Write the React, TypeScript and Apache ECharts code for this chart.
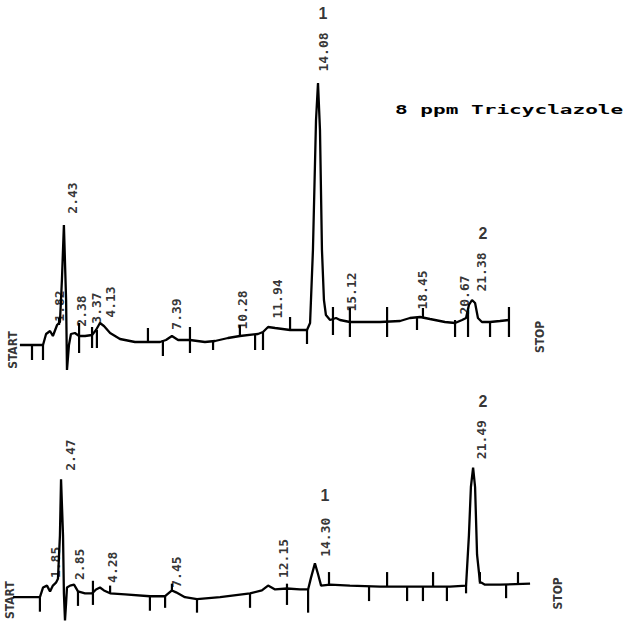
import React, { useEffect, useRef } from "react";
import * as echarts from "echarts";

// Time axis (minutes) shared by both chromatograms
const TIME_MIN = 0;
const TIME_MAX = 24;
const TOP_SIGNAL_MAX = 380;
const BOTTOM_SIGNAL_MAX = 240;

// ---- Upper chromatogram (8 ppm Tricyclazole) : [time, signal]
const TOP_TRACE: [number, number][] = [
  [0.45, 35], [1.5, 35], [1.64, 46], [1.82, 49], [1.95, 44], [2.14, 55], [2.27, 58],
  [2.36, 100], [2.45, 155], [2.55, 80], [2.59, 10], [2.68, 35], [2.77, 46], [2.95, 47],
  [3.14, 44], [3.41, 44], [3.73, 45], [3.91, 50], [4.09, 57], [4.27, 54], [4.55, 47],
  [5.0, 41], [5.68, 38], [6.82, 38], [7.09, 40], [7.36, 44], [7.64, 40], [8.18, 40],
  [8.86, 38], [9.32, 39], [9.91, 42], [10.45, 44], [11.27, 46], [11.5, 48], [11.73, 53],
  [12.05, 52], [12.73, 50], [13.5, 50], [13.64, 57], [13.77, 130], [13.91, 260],
  [14.0, 297], [14.09, 250], [14.18, 130], [14.27, 80], [14.36, 65], [14.55, 60],
  [14.82, 62], [15.0, 60], [15.45, 58], [16.82, 58], [17.73, 59], [18.18, 62],
  [18.64, 63], [19.09, 61], [19.77, 58], [20.23, 57], [20.55, 60], [20.73, 62],
  [20.86, 75], [21.0, 80], [21.14, 77], [21.27, 62], [21.45, 58], [21.82, 58],
  [22.27, 59], [22.68, 60],
];
// integrator event marks: [time, low, high]
const TOP_TICKS: [number, number, number][] = [
  [1.0, 20, 35], [1.5, 20, 35], [2.23, 55, 62], [3.14, 27, 57], [3.73, 32, 53],
  [3.95, 32, 50], [6.27, 38, 52], [6.95, 24, 40], [8.18, 27, 53], [9.23, 30, 39],
  [10.45, 44, 55], [11.14, 30, 46], [11.5, 30, 48], [12.73, 50, 63], [13.5, 36, 50],
  [14.68, 45, 73], [15.45, 43, 72], [17.14, 43, 73], [18.5, 50, 62], [18.77, 62, 72],
  [20.23, 43, 60], [20.82, 43, 70], [21.82, 43, 58], [22.68, 43, 73],
];
// retention-time labels: [text, time, signal]
const TOP_RT_LABELS: [string, number, number][] = [
  ["1.82", 2.23, 74], ["2.43", 2.86, 182], ["2.38", 3.23, 69], ["3.37", 3.95, 72],
  ["4.13", 4.55, 78], ["7.39", 7.55, 66], ["10.28", 10.55, 70], ["11.94", 12.18, 81],
  ["14.08", 14.23, 328], ["15.12", 15.5, 88], ["18.45", 18.73, 90], ["20.67", 20.68, 85],
  ["21.38", 21.45, 108],
];
const TOP_PEAK_NUMBERS: [string, number, number][] = [
  ["1", 14.23, 367], ["2", 21.5, 147],
];
const TOP_MARKERS: [string, number, number][] = [
  ["START", 0.14, 30], ["STOP", 24.09, 43],
];

// ---- Lower chromatogram
const BOTTOM_TRACE: [number, number][] = [
  [0.14, 36], [1.36, 36], [1.5, 46], [1.68, 48], [1.82, 42], [1.95, 48], [2.09, 51],
  [2.18, 55], [2.27, 100], [2.32, 158], [2.41, 100], [2.45, 40], [2.5, 12], [2.55, 30],
  [2.59, 46], [2.73, 48], [2.91, 49], [3.09, 42], [3.41, 40], [3.73, 40], [3.91, 44],
  [4.09, 46], [4.27, 43], [4.55, 40], [5.23, 39], [6.36, 37], [7.05, 37], [7.36, 43],
  [7.55, 41], [7.95, 36], [8.5, 34], [9.55, 36], [10.91, 40], [11.45, 43], [11.73, 48],
  [12.05, 44], [12.59, 45], [13.18, 44], [13.55, 44], [13.68, 56], [13.86, 71],
  [14.0, 60], [14.14, 48], [14.55, 49], [15.45, 48], [16.82, 47], [18.64, 47],
  [20.0, 47], [20.73, 48], [20.86, 100], [20.95, 150], [21.05, 170], [21.14, 150],
  [21.23, 80], [21.36, 52], [21.59, 49], [22.27, 49], [23.64, 50],
];
const BOTTOM_TICKS: [number, number, number][] = [
  [1.36, 21, 36], [3.09, 27, 42], [3.77, 28, 53], [4.55, 40, 48], [6.36, 22, 37],
  [7.05, 25, 37], [7.36, 43, 50], [8.5, 20, 34], [10.91, 25, 40], [12.59, 28, 50],
  [13.55, 20, 44], [14.5, 48, 62], [16.32, 32, 47], [17.14, 47, 62], [18.05, 32, 47],
  [18.77, 32, 47], [19.23, 47, 62], [19.86, 32, 47], [20.73, 40, 48], [21.36, 50, 62],
  [22.55, 35, 49], [23.09, 49, 62],
];
const BOTTOM_RT_LABELS: [string, number, number][] = [
  ["1.85", 2.05, 72], ["2.47", 2.73, 183], ["2.85", 3.14, 70], ["4.28", 4.64, 67],
  ["7.45", 7.59, 62], ["12.15", 12.41, 76], ["14.30", 14.32, 98], ["21.49", 21.45, 199],
];
const BOTTOM_PEAK_NUMBERS: [string, number, number][] = [
  ["1", 14.32, 141], ["2", 21.5, 238],
];
const BOTTOM_MARKERS: [string, number, number][] = [
  ["START", 0.0, 33], ["STOP", 24.9, 40],
];

const TITLE = "8 ppm Tricyclazole";

const INK = "#000";

function labelSeries(idx: number, items: [string, number, number][], label: any) {
  return {
    type: "scatter",
    xAxisIndex: idx,
    yAxisIndex: idx,
    silent: true,
    clip: false,
    symbolSize: 1,
    itemStyle: { color: "rgba(0,0,0,0)" },
    data: items.map(([txt, t, v]) => ({ name: txt, value: [t, v] })),
    label: {
      show: true,
      formatter: "{b}",
      position: "inside",
      align: "center",
      verticalAlign: "middle",
      color: INK,
      ...label,
    },
  };
}

function panelSeries(
  idx: number,
  trace: [number, number][],
  ticks: [number, number, number][],
  rt: [string, number, number][],
  peaks: [string, number, number][],
  markers: [string, number, number][]
) {
  return [
    {
      type: "line",
      xAxisIndex: idx,
      yAxisIndex: idx,
      data: trace,
      symbol: "none",
      showSymbol: false,
      silent: true,
      clip: false,
      lineStyle: { color: INK, width: 2.3 },
    },
    {
      type: "custom",
      xAxisIndex: idx,
      yAxisIndex: idx,
      data: ticks,
      silent: true,
      clip: false,
      encode: { x: 0, y: [1, 2] },
      renderItem: (_p: any, api: any) => {
        const a = api.coord([api.value(0), api.value(1)]);
        const b = api.coord([api.value(0), api.value(2)]);
        return {
          type: "line",
          shape: { x1: a[0], y1: a[1], x2: b[0], y2: b[1] },
          style: { stroke: INK, lineWidth: 2.2 },
        };
      },
    },
    labelSeries(idx, rt, {
      rotate: 90,
      fontFamily: "DejaVu Sans Mono",
      fontSize: 13,
      fontWeight: "bold",
    }),
    labelSeries(idx, peaks, {
      fontFamily: "Liberation Sans",
      fontSize: 16,
      fontWeight: "bold",
    }),
    labelSeries(idx, markers, {
      rotate: 90,
      fontFamily: "DejaVu Sans Condensed",
      fontSize: 12,
      fontWeight: "bold",
    }),
  ];
}

export default function App() {
  const ref = useRef<HTMLDivElement>(null);
  useEffect(() => {
    if (!ref.current) return;
    const chart = echarts.init(ref.current, null, { renderer: "svg" });
    const xAxisBase = { type: "value", min: TIME_MIN, max: TIME_MAX, show: false };
    chart.setOption({
      animation: false,
      backgroundColor: "#fff",
      grid: [
        { left: 10, top: 0, width: 528, height: 380 },
        { left: 10, top: 400, width: 528, height: 240 },
      ],
      xAxis: [
        { ...xAxisBase, gridIndex: 0 },
        { ...xAxisBase, gridIndex: 1 },
      ],
      yAxis: [
        { type: "value", gridIndex: 0, min: 0, max: TOP_SIGNAL_MAX, show: false },
        { type: "value", gridIndex: 1, min: 0, max: BOTTOM_SIGNAL_MAX, show: false },
      ],
      graphic: [
        {
          type: "text",
          x: 395,
          y: 110,
          scaleX: 1.62,
          silent: true,
          style: {
            text: TITLE,
            fontFamily: "DejaVu Sans Mono",
            fontSize: 13,
            fontWeight: "bold",
            fill: INK,
            align: "left",
            verticalAlign: "middle",
          },
        },
      ],
      series: [
        ...panelSeries(0, TOP_TRACE, TOP_TICKS, TOP_RT_LABELS, TOP_PEAK_NUMBERS, TOP_MARKERS),
        ...panelSeries(1, BOTTOM_TRACE, BOTTOM_TICKS, BOTTOM_RT_LABELS, BOTTOM_PEAK_NUMBERS, BOTTOM_MARKERS),
      ],
    });
    return () => chart.dispose();
  }, []);
  return (
    <div
      ref={ref}
      style={{ position: "fixed", left: 0, top: 0, width: 625, height: 632, background: "#fff" }}
    />
  );
}
